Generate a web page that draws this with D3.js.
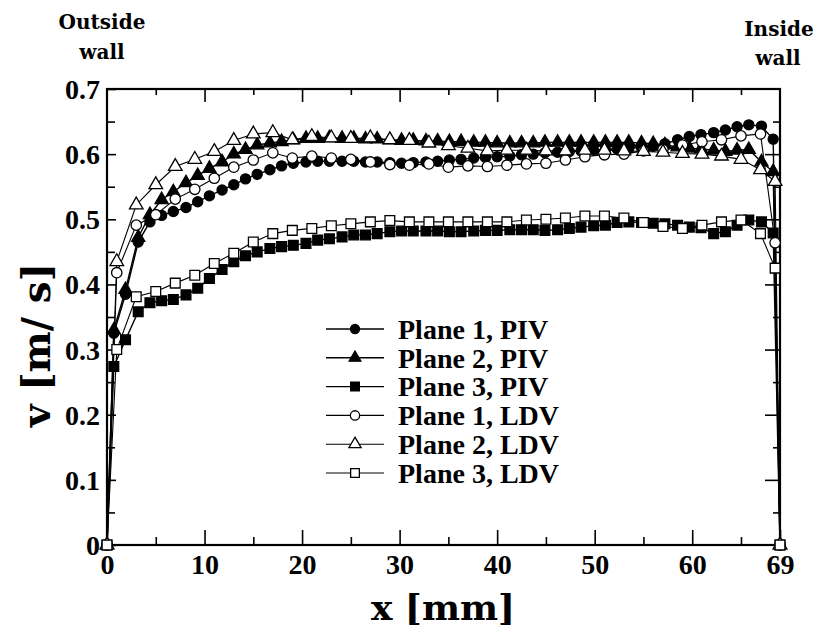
<!DOCTYPE html>
<html>
<head>
<meta charset="utf-8">
<script src="https://cdn.jsdelivr.net/npm/d3@7"></script>
<style>
  body { margin: 0; background: #fff; }
  svg text { font-family: "Liberation Serif", "Times New Roman", serif; font-weight: bold; fill: #000; }
  .wall { font-family: "DejaVu Serif", serif; font-size: 20px; }
  .title { font-family: "DejaVu Serif", serif; }
</style>
</head>
<body>
<svg id="chart" width="817" height="633"></svg>
<script>
// x positions (mm)
const xPIV = [0, 0.7, 1.9, 3.2, 4.4, 5.6, 6.8, 8.1, 9.3, 10.5, 11.8, 13.0, 14.2, 15.4, 16.7, 17.9, 19.1,
  20.4, 21.6, 22.8, 24.1, 25.3, 26.5, 27.7, 29.0, 30.2, 31.4, 32.7, 33.9, 35.1, 36.3, 37.6, 38.8,
  40.0, 41.3, 42.5, 43.7, 44.9, 46.2, 47.4, 48.6, 49.9, 51.1, 52.3, 53.5, 54.8, 56.0, 57.2, 58.5,
  59.7, 60.9, 62.2, 63.4, 64.6, 65.8, 67.1, 68.3, 69];
const xLDV = [0, 1, 3, 5, 7, 9, 11, 13, 15, 17, 19, 21, 23, 25, 27, 29, 31, 33, 35, 37, 39, 41, 43,
  45, 47, 49, 51, 53, 55, 57, 59, 61, 63, 65, 67, 68.5, 69];

// v (m/s)
const plane1PIV = [0, 0.325, 0.385, 0.465, 0.496, 0.506, 0.512, 0.518, 0.527, 0.536, 0.545, 0.553, 0.562,
  0.569, 0.576, 0.582, 0.586, 0.588, 0.589, 0.589, 0.589, 0.589, 0.588, 0.588, 0.587, 0.586, 0.587,
  0.588, 0.589, 0.591, 0.592, 0.594, 0.595, 0.596, 0.597, 0.599, 0.600, 0.602, 0.603, 0.604, 0.605,
  0.606, 0.607, 0.608, 0.609, 0.610, 0.612, 0.616, 0.622, 0.627, 0.630, 0.633, 0.637, 0.642, 0.645,
  0.643, 0.623, 0];
const plane2PIV = [0, 0.330, 0.392, 0.472, 0.507, 0.530, 0.542, 0.556, 0.567, 0.578, 0.588, 0.600, 0.607,
  0.614, 0.617, 0.619, 0.622, 0.624, 0.624, 0.625, 0.624, 0.624, 0.623, 0.623, 0.622, 0.621, 0.621,
  0.620, 0.620, 0.619, 0.619, 0.618, 0.618, 0.617, 0.617, 0.617, 0.617, 0.618, 0.618, 0.618, 0.618,
  0.618, 0.618, 0.618, 0.618, 0.617, 0.616, 0.614, 0.611, 0.609, 0.608, 0.606, 0.604, 0.606, 0.607,
  0.588, 0.573, 0];
const plane3PIV = [0, 0.274, 0.315, 0.358, 0.372, 0.375, 0.377, 0.384, 0.394, 0.409, 0.423, 0.435, 0.444,
  0.450, 0.455, 0.458, 0.460, 0.463, 0.468, 0.470, 0.473, 0.476, 0.476, 0.478, 0.481, 0.482, 0.482,
  0.482, 0.482, 0.481, 0.481, 0.482, 0.483, 0.483, 0.484, 0.484, 0.484, 0.483, 0.484, 0.486, 0.488,
  0.490, 0.491, 0.495, 0.496, 0.495, 0.494, 0.493, 0.491, 0.488, 0.487, 0.478, 0.481, 0.491, 0.499,
  0.496, 0.479, 0];
const plane1LDV = [0, 0.418, 0.491, 0.507, 0.531, 0.546, 0.563, 0.580, 0.591, 0.602, 0.594, 0.597, 0.594,
  0.592, 0.588, 0.584, 0.583, 0.585, 0.580, 0.582, 0.581, 0.583, 0.585, 0.586, 0.591, 0.596, 0.599,
  0.600, 0.605, 0.607, 0.614, 0.619, 0.622, 0.628, 0.631, 0.464, 0];
const plane2LDV = [0, 0.435, 0.522, 0.553, 0.581, 0.592, 0.604, 0.621, 0.631, 0.633, 0.622, 0.627, 0.625,
  0.624, 0.625, 0.622, 0.621, 0.617, 0.613, 0.609, 0.605, 0.606, 0.606, 0.605, 0.605, 0.606, 0.606,
  0.605, 0.604, 0.603, 0.601, 0.600, 0.597, 0.592, 0.576, 0.558, 0];
const plane3LDV = [0, 0.300, 0.381, 0.389, 0.402, 0.414, 0.432, 0.448, 0.465, 0.478, 0.483, 0.486, 0.490,
  0.493, 0.496, 0.498, 0.496, 0.496, 0.496, 0.496, 0.496, 0.496, 0.499, 0.500, 0.502, 0.505, 0.505,
  0.502, 0.495, 0.489, 0.486, 0.491, 0.496, 0.499, 0.478, 0.425, 0];

const xTicks = [0, 10, 20, 30, 40, 50, 60, 69];
const xMinor = [5, 15, 25, 35, 45, 55, 65];
const yTicks = [0, 0.1, 0.2, 0.3, 0.4, 0.5, 0.6, 0.7];
const yMinor = [0.05, 0.15, 0.25, 0.35, 0.45, 0.55, 0.65];

const series = [
  { name: "Plane 1, PIV", xs: xPIV, vs: plane1PIV, shape: d3.symbolCircle, size: 80, filled: true, lw: 1.4 },
  { name: "Plane 2, PIV", xs: xPIV, vs: plane2PIV, shape: d3.symbolTriangle, size: 75, filled: true, lw: 1.4 },
  { name: "Plane 3, PIV", xs: xPIV, vs: plane3PIV, shape: d3.symbolSquare, size: 95, filled: true, lw: 1.4 },
  { name: "Plane 1, LDV", xs: xLDV, vs: plane1LDV, shape: d3.symbolCircle, size: 85, filled: false, lw: 1.1 },
  { name: "Plane 2, LDV", xs: xLDV, vs: plane2LDV, shape: d3.symbolTriangle, size: 80, filled: false, lw: 1.1 },
  { name: "Plane 3, LDV", xs: xLDV, vs: plane3LDV, shape: d3.symbolSquare, size: 95, filled: false, lw: 1.1 }
];

const svg = d3.select("#chart");
const mLeft = 107, mRight = 780, mTop = 89, mBottom = 545;

const x = d3.scaleLinear().domain([0, 69]).range([mLeft, mRight]);
const y = d3.scaleLinear().domain([0, 0.7]).range([mBottom, mTop]);

// ticks (all inward)
function ticks(gen, tr, vals, size, labels) {
  const g = svg.append("g").attr("transform", tr)
    .call(gen.tickValues(vals).tickSizeInner(size).tickSizeOuter(0)
      .tickFormat(labels ? labels : () => ""));
  g.select(".domain").remove();
  g.selectAll(".tick line").attr("stroke", "#000").attr("stroke-width", 1.6);
  return g;
}

const xb = ticks(d3.axisBottom(x), `translate(0,${mBottom})`, xTicks, -15, d => String(d));
xb.selectAll(".tick text").attr("font-size", 28).attr("y", 9).attr("dy", "0.71em");
ticks(d3.axisBottom(x), `translate(0,${mBottom})`, xMinor, -8);
ticks(d3.axisTop(x), `translate(0,${mTop})`, xTicks.slice(1, -1), -13);
ticks(d3.axisTop(x), `translate(0,${mTop})`, xMinor, -6);

const yl = ticks(d3.axisLeft(y), `translate(${mLeft},0)`, yTicks, -9, d => d === 0 ? "0" : d3.format(".1f")(d));
yl.selectAll(".tick text").attr("font-size", 28).attr("x", -7).attr("dy", "0.34em");
ticks(d3.axisLeft(y), `translate(${mLeft},0)`, yMinor, -8);
ticks(d3.axisRight(y), `translate(${mRight},0)`, yTicks.slice(1, -1), -15);
ticks(d3.axisRight(y), `translate(${mRight},0)`, yMinor, -7);

// frame
svg.append("rect")
  .attr("x", mLeft).attr("y", mTop)
  .attr("width", mRight - mLeft).attr("height", mBottom - mTop)
  .attr("fill", "none").attr("stroke", "#000").attr("stroke-width", 2.2);

// data
const line = d3.line().x(d => x(d[0])).y(d => y(d[1]));

series.forEach(s => {
  const pts = s.xs.map((xv, i) => [xv, s.vs[i]]);
  svg.append("path").datum(pts)
    .attr("d", line)
    .attr("fill", "none").attr("stroke", "#000").attr("stroke-width", s.lw);
});

series.forEach(s => {
  const pts = s.xs.map((xv, i) => [xv, s.vs[i]]);
  svg.append("g").selectAll("path")
    .data(pts)
    .join("path")
    .attr("transform", d => `translate(${x(d[0])},${y(d[1])})`)
    .attr("d", d3.symbol().type(s.shape).size(s.size))
    .attr("fill", s.filled ? "#000" : "#fff")
    .attr("stroke", "#000").attr("stroke-width", 1.3);
});

// legend
const legend = svg.append("g");
series.forEach((s, i) => {
  const ly = 329 + i * 28.8;
  legend.append("line").attr("x1", 326).attr("x2", 384).attr("y1", ly).attr("y2", ly)
    .attr("stroke", "#000").attr("stroke-width", s.lw);
  legend.append("path")
    .attr("transform", `translate(355,${ly})`)
    .attr("d", d3.symbol().type(s.shape).size(s.size * 0.8))
    .attr("fill", s.filled ? "#000" : "#fff")
    .attr("stroke", "#000").attr("stroke-width", 1.3);
  legend.append("text").attr("x", 398).attr("y", ly).attr("dy", "0.35em")
    .attr("font-size", 28).text(s.name);
});

// axis titles
svg.append("text").attr("class", "title").attr("x", 443).attr("y", 620).attr("text-anchor", "middle")
  .attr("font-size", 36).text("x [mm]");
svg.append("text").attr("class", "title").attr("transform", "translate(50,345) rotate(-90)")
  .attr("text-anchor", "middle").attr("font-size", 39).text("v [m/ s]");

// wall notes
svg.append("text").attr("class", "wall").attr("x", 102).attr("y", 29).attr("text-anchor", "middle").text("Outside");
svg.append("text").attr("class", "wall").attr("x", 102).attr("y", 59).attr("text-anchor", "middle").text("wall");
svg.append("text").attr("class", "wall").attr("x", 779).attr("y", 36).attr("text-anchor", "middle").text("Inside");
svg.append("text").attr("class", "wall").attr("x", 778).attr("y", 65).attr("text-anchor", "middle").text("wall");
</script>
</body>
</html>
